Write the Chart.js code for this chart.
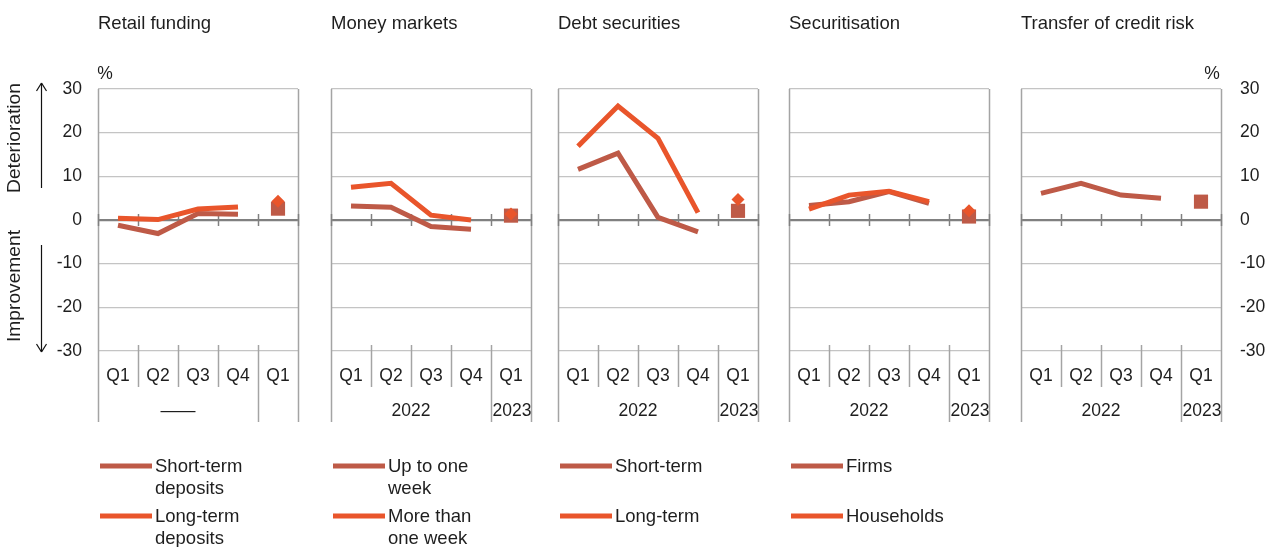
<!DOCTYPE html>
<html>
<head>
<meta charset="utf-8">
<script src="https://cdn.jsdelivr.net/npm/chart.js@4.4.1/dist/chart.umd.min.js"></script>
<style>
  body { margin: 0; background: #fff; }
  #wrap { position: relative; width: 1266px; height: 547px; overflow: hidden; }
  .panel { position: absolute; top: 0; }
</style>
</head>
<body>
<div id="wrap"></div>
<script>
// quarters 2022 Q1-Q4 drawn as lines, 2023 Q1 drawn as a single marker
const quarters = ['Q1', 'Q2', 'Q3', 'Q4', 'Q1'];
const years = ['2022', '2023'];

const retailShortTerm = [-1.2, -3.1, 1.5, 1.3, 2.6];
const retailLongTerm = [0.4, 0.1, 2.5, 3.0, 4.3];
const moneyUpToWeek = [3.2, 2.9, -1.5, -2.1, 1.0];
const moneyMoreThanWeek = [7.5, 8.4, 1.1, 0.0, 1.4];
const debtShortTerm = [11.6, 15.3, 0.6, -2.7, 2.1];
const debtLongTerm = [16.9, 26.1, 18.7, 1.7, 4.7];
const securitisationFirms = [3.3, 4.2, 6.5, 3.8, 0.8];
const securitisationHouseholds = [2.5, 5.7, 6.6, 4.2, 2.1];
const creditRiskTransfer = [6.1, 8.4, 5.7, 5.0, 4.2];

const DARK = '#BE5A47';
const ORANGE = '#E9552B';
const FONT = '"Liberation Sans", Arial, Helvetica, sans-serif';
const FS_TICK = 17.5;
const FS_TEXT = 18.5;
const FS_SIDE = 19.2;
const TEXT = '#1e1e1e';

const panels = [
  {
    title: 'Retail funding',
    series: [
      { label: 'Short-term\ndeposits', values: retailShortTerm, color: DARK },
      { label: 'Long-term\ndeposits', values: retailLongTerm, color: ORANGE },
    ],
    years: ['——', ''],
    axis: 'left',
    left: 98,
  },
  {
    title: 'Money markets',
    series: [
      { label: 'Up to one\nweek', values: moneyUpToWeek, color: DARK },
      { label: 'More than\none week', values: moneyMoreThanWeek, color: ORANGE },
    ],
    years,
    left: 331,
  },
  {
    title: 'Debt securities',
    series: [
      { label: 'Short-term', values: debtShortTerm, color: DARK },
      { label: 'Long-term', values: debtLongTerm, color: ORANGE },
    ],
    years,
    left: 558,
  },
  {
    title: 'Securitisation',
    series: [
      { label: 'Firms', values: securitisationFirms, color: DARK },
      { label: 'Households', values: securitisationHouseholds, color: ORANGE },
    ],
    years,
    left: 789,
  },
  {
    title: 'Transfer of credit risk',
    series: [{ label: '', values: creditRiskTransfer, color: DARK }],
    years,
    axis: 'right',
    left: 1021,
    noLegend: true,
  },
];

const PLOT_W = 200;
const PLOT_TOP = 89;
const PLOT_BOTTOM = 351;
const CANVAS_H = 547;
const X_AXIS_H = 71;

const font = (size) => `${size}px ${FONT}`;

const line = (ctx, x1, y1, x2, y2) => {
  ctx.beginPath();
  ctx.moveTo(x1, y1);
  ctx.lineTo(x2, y2);
  ctx.stroke();
};

const panelDecor = {
  id: 'panelDecor',
  beforeDatasetsDraw(chart, args, opts) {
    const { ctx, chartArea: a, scales: { x, y } } = chart;
    const half = (x.getPixelForValue(1) - x.getPixelForValue(0)) / 2;
    const zero = y.getPixelForValue(0);
    ctx.save();
    ctx.strokeStyle = '#A4A4A4';
    ctx.lineWidth = 1.5;
    for (let i = 0; i <= quarters.length; i++) {
      const px = Math.round(x.getPixelForValue(i) - half) + 0.5;
      if (i === 0 || i === quarters.length) {
        line(ctx, px, a.top, px, a.bottom + 71);
      } else if (i === quarters.length - 1) {
        line(ctx, px, a.bottom - 6, px, a.bottom + 71);
      } else {
        line(ctx, px, a.bottom - 6, px, a.bottom + 36);
      }
    }
    ctx.strokeStyle = '#808080';
    for (let i = 0; i <= quarters.length; i++) {
      const px = Math.round(x.getPixelForValue(i) - half) + 0.5;
      line(ctx, px, zero - 6, px, zero + 6);
    }
    ctx.restore();
  },
  afterDraw(chart, args, opts) {
    const { ctx, chartArea: a, scales: { x } } = chart;
    ctx.save();
    ctx.fillStyle = TEXT;
    ctx.textBaseline = 'middle';

    // panel title
    ctx.font = font(FS_TEXT);
    ctx.textAlign = 'left';
    ctx.fillText(opts.title, a.left, 24);

    // unit above the value axis
    ctx.font = font(FS_TICK);
    if (opts.axis) {
      ctx.textAlign = 'center';
      ctx.fillText('%', opts.axis === 'left' ? a.left + 7 : a.right - 9, 74);
    }

    // year row
    ctx.textAlign = 'center';
    const mid = (x.getPixelForValue(1) + x.getPixelForValue(2)) / 2;
    ctx.fillText(opts.years[0], mid, 411);
    ctx.fillText(opts.years[1], x.getPixelForValue(4) + 1, 411);

    // legend column under the panel
    if (!opts.noLegend) {
      ctx.font = font(FS_TEXT);
      const lx = a.left + 2;
      chart.data.datasets
        .filter((d) => d.showLine !== false)
        .sort((p, q) => q.order - p.order)
        .forEach((d, row) => {
          const ly = 466 + row * 50;
          ctx.strokeStyle = d.borderColor;
          ctx.lineWidth = 5;
          line(ctx, lx, ly, lx + 52, ly);
          ctx.textAlign = 'left';
          d.label.split('\n').forEach((t, k) => ctx.fillText(t, lx + 55, ly + 1 + k * 22));
        });
    }

    // direction labels on the far left
    if (opts.side) {
      ctx.font = font(FS_SIDE);
      ctx.textAlign = 'center';
      [['Deterioration', 138], ['Improvement', 286]].forEach(([t, cy]) => {
        ctx.save();
        ctx.translate(15, cy);
        ctx.rotate(-Math.PI / 2);
        ctx.fillText(t, 0, 0);
        ctx.restore();
      });
      ctx.strokeStyle = '#111';
      ctx.lineWidth = 1.2;
      line(ctx, 41.5, 188, 41.5, 83);
      line(ctx, 36.5, 91, 41.5, 83);
      line(ctx, 46.5, 91, 41.5, 83);
      line(ctx, 41.5, 245, 41.5, 352);
      line(ctx, 36.5, 344, 41.5, 352);
      line(ctx, 46.5, 344, 41.5, 352);
    }
    ctx.restore();
  },
};

const buildDatasets = (series) =>
  series.flatMap((s, i) => [
    {
      label: s.label,
      data: s.values.slice(0, 4).concat(null),
      borderColor: s.color,
      backgroundColor: s.color,
      borderWidth: 5,
      borderCapStyle: 'butt',
      borderJoinStyle: 'miter',
      pointRadius: 0,
      tension: 0,
      order: 11 - i,
    },
    {
      label: s.label,
      data: [null, null, null, null, s.values[4]],
      showLine: false,
      pointStyle: i === 0 ? 'rect' : 'rectRot',
      pointRadius: i === 0 ? 10 : 6.5,
      pointBackgroundColor: s.color,
      pointBorderWidth: 0,
      order: 1 - i,
    },
  ]);

const wrap = document.getElementById('wrap');

panels.forEach((p) => {
  const yWidth = p.axis === 'left' ? 98 : p.axis === 'right' ? 45 : 0;
  const padL = p.axis === 'left' ? 0 : 12;
  const padR = p.axis === 'right' ? 0 : 12;
  const canvasLeft = p.left - padL - (p.axis === 'left' ? yWidth : 0);
  const width = PLOT_W + padL + padR + yWidth;

  const box = document.createElement('div');
  box.className = 'panel';
  box.style.left = canvasLeft + 'px';
  const canvas = document.createElement('canvas');
  canvas.width = width;
  canvas.height = CANVAS_H;
  canvas.style.width = width + 'px';
  canvas.style.height = CANVAS_H + 'px';
  box.append(canvas);
  wrap.append(box);

  new Chart(canvas, {
    type: 'line',
    data: { labels: quarters, datasets: buildDatasets(p.series) },
    options: {
      responsive: false,
      animation: false,
      events: [],
      layout: {
        padding: {
          top: PLOT_TOP,
          left: padL,
          right: padR,
          bottom: CANVAS_H - PLOT_BOTTOM - X_AXIS_H,
        },
      },
      plugins: {
        legend: { display: false },
        tooltip: { enabled: false },
        panelDecor: {
          title: p.title,
          years: p.years,
          axis: p.axis,
          side: p.axis === 'left',
          noLegend: p.noLegend,
        },
      },
      scales: {
        x: {
          offset: true,
          grid: { display: false, drawTicks: false },
          border: { display: false },
          ticks: { color: TEXT, font: { family: FONT, size: FS_TICK }, padding: 15, maxRotation: 0 },
          afterFit: (scale) => {
            scale.height = X_AXIS_H;
          },
        },
        y: {
          position: p.axis === 'right' ? 'right' : 'left',
          min: -30,
          max: 30,
          grid: {
            drawTicks: false,
            color: (c) => (c.tick.value === 0 ? '#808080' : '#C4C4C4'),
            lineWidth: (c) => (c.tick.value === 0 ? 2.2 : 1.3),
          },
          border: { display: false },
          ticks: {
            display: !!p.axis,
            stepSize: 10,
            color: TEXT,
            font: { family: FONT, size: FS_TICK },
            padding: p.axis === 'right' ? 19 : 16,
          },
          afterFit: (scale) => {
            scale.width = yWidth;
          },
        },
      },
    },
    plugins: [panelDecor],
  });
});
</script>
</body>
</html>
